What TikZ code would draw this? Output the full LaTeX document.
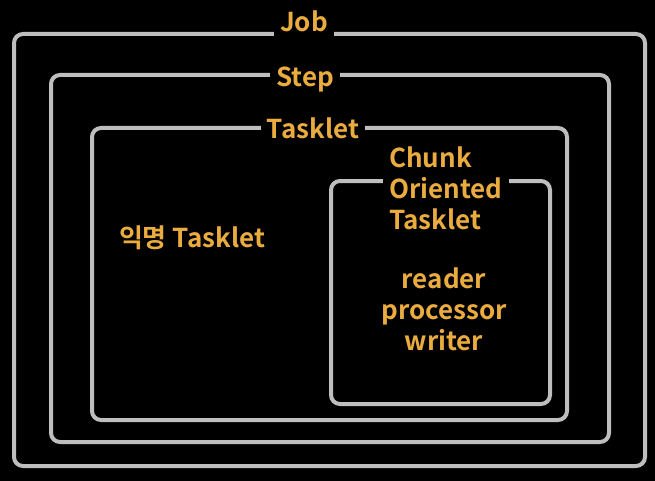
\documentclass[tikz,border=0pt]{standalone}
\usepackage{fontspec}
\setmainfont{Noto Sans CJK KR}[BoldFont={Noto Sans CJK KR Bold}]
\definecolor{linegray}{RGB}{190,190,190}
\definecolor{labelgold}{RGB}{234,172,62}
\tikzset{
  box/.style={draw=linegray, line width=4pt, rounded corners=9pt},
  lbl/.style={text=labelgold, font=\bfseries\fontsize{26}{31}\selectfont},
  tag/.style={lbl, fill=black, inner xsep=6pt, inner ysep=6pt}
}
\begin{document}
\begin{tikzpicture}[x=1pt, y=-1pt]
        \useasboundingbox[fill=black] (0,0) rectangle (655,481);
        % nested frames
        \draw[box] (14,34) rectangle (645,466);
        \draw[box] (51,75) rectangle (609,442);
        \draw[box] (92,128) rectangle (567,420);
        \draw[box] (331,181) rectangle (550,404);
        % frame titles
        \node[tag] (job) at (304,21) {Job};
        \node[tag] (step) at (305,79) {Step};
        \node[tag] (tasklet) at (313,128) {Tasklet};
        \node[tag, align=left, anchor=west] (chunk) at (383,188) {Chunk\\Oriented\\Tasklet};
        % contents
        \node[lbl] (anon) at (192,238) {익명 Tasklet};
        \node[lbl, align=center] (rpw) at (444,309) {reader\\processor\\writer};
\end{tikzpicture}
\end{document}
